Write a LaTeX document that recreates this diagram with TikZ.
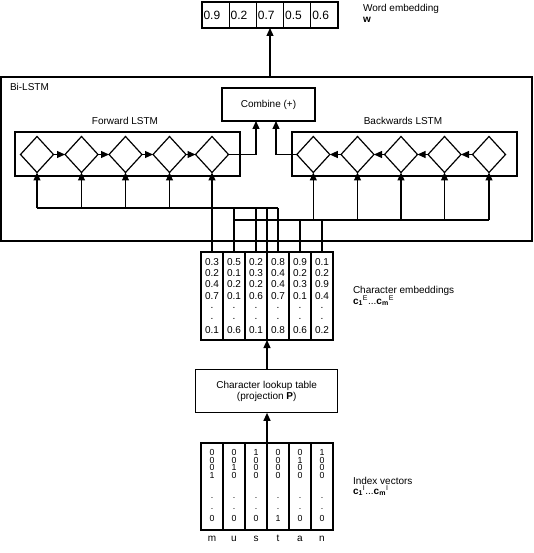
\documentclass[tikz,border=0pt]{standalone}
\usepackage{fontspec}
\setmainfont{Liberation Sans}
\usetikzlibrary{arrows.meta,shapes.geometric}
\begin{document}
\begin{tikzpicture}[x=1pt,y=-1pt,
  ln/.style={line width=1.2pt},
  arr/.style={line width=1.2pt,-{Triangle[length=8pt,width=7pt]}},
  frame/.style={draw,line width=1.2pt,inner sep=0pt,outer sep=0pt},
  dia/.style={draw,line width=1.2pt,diamond,inner sep=0pt,outer sep=0pt,minimum width=33pt,minimum height=36pt},
  lbl/.style={inner sep=0pt,outer sep=0pt,font=\fontsize{10}{12}\selectfont},
  ev/.style={inner sep=0pt,outer sep=0pt,anchor=base,font=\fontsize{10}{12}\selectfont},
  iv/.style={inner sep=0pt,outer sep=0pt,anchor=base,font=\fontsize{8.8}{10}\selectfont},
  wv/.style={inner sep=0pt,outer sep=0pt,anchor=base west,font=\fontsize{12}{14}\selectfont}]
\useasboundingbox (0,0) rectangle (533,553);

% word embedding vector
\foreach \v [count=\i] in {0.9,0.2,0.7,0.5,0.6}{
  \node[frame,minimum width=27.2pt,minimum height=26pt] (w\i) at ({202+27.2*\i-13.6},15) {};
  \node[wv] (wt\i) at ({202+27.2*(\i-1)+1.5},19.3) {\v};
}
\node[lbl,anchor=base west] (welbl) at (363,11.5) {Word embedding};
\node[lbl,anchor=base west] (wlbl) at (363,23) {\textbf{w}};

% Bi-LSTM
\node[frame,minimum width=531pt,minimum height=164pt] (bilstm) at (266.5,159) {};
\node[lbl,anchor=base west] (bilbl) at (10,90.6) {Bi-LSTM};
\node[frame,minimum width=93pt,minimum height=33pt,font=\fontsize{10}{12}\selectfont] (comb) at (268.5,104.5) {Combine (+)};
\node[frame,minimum width=225pt,minimum height=44pt] (fwd) at (127.5,154) {};
\node[frame,minimum width=225pt,minimum height=44pt] (bwd) at (404.5,154) {};
\node[lbl] (fwdlbl) at (125,121) {Forward LSTM};
\node[lbl] (bwdlbl) at (403,121) {Backwards LSTM};
\foreach \x [count=\i] in {37,81.5,125.5,169.5,212}
  \node[dia] (f\i) at (\x,154.5) {};
\foreach \x [count=\i] in {313.3,357.5,401,444.5,489}
  \node[dia] (b\i) at (\x,154.5) {};

% character embeddings
\foreach \va/\vb/\vc/\vd/\vz [count=\i] in {0.3/0.2/0.4/0.7/0.1,0.5/0.1/0.2/0.1/0.6,0.2/0.3/0.2/0.6/0.1,0.8/0.4/0.4/0.7/0.8,0.9/0.2/0.3/0.1/0.6,0.1/0.2/0.9/0.4/0.2}{
  \node[frame,minimum width=22pt,minimum height=88pt] (e\i) at ({190+22*\i},296) {};
  \node[ev] (e\i a) at ({190+22*\i},265.3) {\va};
  \node[ev] (e\i b) at ({190+22*\i},276.6) {\vb};
  \node[ev] (e\i c) at ({190+22*\i},287.9) {\vc};
  \node[ev] (e\i d) at ({190+22*\i},299.2) {\vd};
  \node[ev] (e\i e) at ({190+22*\i},308.5) {.};
  \node[ev] (e\i f) at ({190+22*\i},319) {.};
  \node[ev] (e\i g) at ({190+22*\i},333.1) {\vz};
}
\node[lbl,anchor=base west] (celbl) at (353,293) {Character embeddings};
\node[lbl,anchor=base west] (cesym) at (353,304) {\textbf{c}\textsubscript{\textbf{1}}\textsuperscript{E}...\textbf{c}\textsubscript{\textbf{m}}\textsuperscript{E}};

% lookup table
\node[frame,minimum width=142pt,minimum height=43.7pt,align=center,font=\fontsize{10}{11}\selectfont] (lookup) at (266.7,391) {Character lookup table\\(projection \textbf{P})};

% index vectors
\foreach \va/\vb/\vc/\vd/\vz/\ch [count=\i] in {0/0/0/1/0/m,0/0/1/0/0/u,1/0/0/0/0/s,0/0/0/0/1/t,0/1/0/0/0/a,1/0/0/0/0/n}{
  \node[frame,minimum width=22pt,minimum height=87pt] (x\i) at ({190+22*\i},486.5) {};
  \node[iv] (x\i a) at ({190+22*\i},455.7) {\va};
  \node[iv] (x\i b) at ({190+22*\i},463) {\vb};
  \node[iv] (x\i c) at ({190+22*\i},470.3) {\vc};
  \node[iv] (x\i d) at ({190+22*\i},478) {\vd};
  \node[iv] (x\i e) at ({190+22*\i},498.5) {.};
  \node[iv] (x\i f) at ({190+22*\i},509.5) {.};
  \node[iv] (x\i g) at ({190+22*\i},521.3) {\vz};
  \node[ev] (ch\i) at ({190+22*\i},541) {\ch};
}
\node[lbl,anchor=base west] (ivlbl) at (353,484) {Index vectors};
\node[lbl,anchor=base west] (ivsym) at (353,494) {\textbf{c}\textsubscript{\textbf{1}}\textsuperscript{I}...\textbf{c}\textsubscript{\textbf{m}}\textsuperscript{I}};

% connectors
\draw[arr] (bilstm.north -| w3.south) -- (w3.south);
\foreach \i [evaluate=\i as \j using int(\i+1)] in {1,...,4}{
  \draw[arr] (f\i.east) -- (f\j.west);
  \draw[arr] (b\j.west) -- (b\i.east);
}
\coordinate (cf) at (256,121);
\coordinate (cb) at (276,121);
\draw[arr] (f5.east) -| (cf);
\draw[arr] (b1.west) -| (cb);
\coordinate (fbus) at (37,208);
\coordinate (bbus) at (233,220);
\draw[ln] (f1 |- fbus) -- (e4.north |- fbus);
\foreach \i in {1,...,4} \draw[arr] (f\i |- fbus) -- (f\i.south);
\draw[arr] (e1.north) -- (f5.south);
\foreach \i in {2,3,4} \draw[ln] (e\i.north) -- (e\i.north |- fbus);
\draw[ln] (e3.north east) -- (e3.north east |- fbus);
\draw[ln] (e2.north |- bbus) -- (b5 |- bbus);
\foreach \i in {1,...,5} \draw[arr] (b\i |- bbus) -- (b\i.south);
\foreach \i in {5,6} \draw[ln] (e\i.north) -- (e\i.north |- bbus);
\draw[arr] (lookup.north -| e3.south east) -- (e3.south east);
\draw[arr] (x3.north east) -- (x3.north east |- lookup.south);
\end{tikzpicture}
\end{document}
